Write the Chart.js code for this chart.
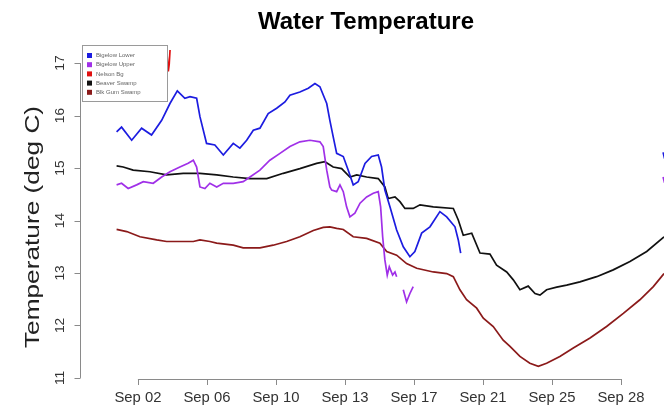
<!DOCTYPE html>
<html>
<head>
<meta charset="utf-8">
<script src="https://cdn.jsdelivr.net/npm/chart.js@4/dist/chart.umd.min.js"></script>
<style>
  html, body { margin: 0; padding: 0; background: #fff; }
  #wrap { width: 664px; height: 409px; }
</style>
</head>
<body>
<div id="wrap"><canvas id="c" width="664" height="409"></canvas></div>
<script>
// Axis ticks: x in day-of-September (fractional), y in deg C
const xTickDays = [2, 5.75, 9.5, 13.25, 17, 20.75, 24.5, 28.25];
const xTickLabels = ['Sep 02', 'Sep 06', 'Sep 10', 'Sep 13', 'Sep 17', 'Sep 21', 'Sep 25', 'Sep 28'];
const yTicks = [11, 12, 13, 14, 15, 16, 17];

const siteNames = ['Bigelow Lower', 'Bigelow Upper', 'Nelson Bg', 'Beaver Swamp', 'Blk Gum Swamp'];
const siteColors = ['#1c1ce0', '#a030e8', '#e01010', '#111111', '#8b1a1a'];

// [day, temperature] readings per site; null temperature = logger gap
const bigelowLower = [
  [0.84,15.69],[1.11,15.78],[1.66,15.53],[2.20,15.76],[2.74,15.63],[3.29,15.91],[3.74,16.23],
  [4.14,16.47],[4.55,16.33],[4.83,16.36],[5.19,16.33],[5.37,15.98],[5.73,15.47],[6.18,15.44],
  [6.64,15.25],[7.18,15.47],[7.54,15.38],[7.91,15.53],[8.27,15.72],[8.63,15.76],[9.08,16.04],
  [9.54,16.14],[9.99,16.26],[10.26,16.39],[10.80,16.45],[11.26,16.52],[11.62,16.61],[11.89,16.55],
  [12.26,16.23],[12.43,15.91],[12.61,15.60],[12.80,15.28],[13.16,15.22],[13.43,14.96],[13.70,14.68],
  [13.97,14.74],[14.34,15.09],[14.70,15.22],[15.06,15.25],[15.24,15.02],[15.42,14.58],[15.70,14.26],
  [16.06,13.82],[16.42,13.50],[16.78,13.31],[17.05,13.41],[17.42,13.76],[17.87,13.88],[18.41,14.17],
  [18.78,14.07],[19.23,13.88],[19.41,13.63],[19.54,13.38],
  [25.0,null],[30.54,15.30],[30.62,15.18]
];
const bigelowUpper = [
  [0.84,14.68],[1.11,14.71],[1.47,14.61],[1.93,14.68],[2.29,14.74],[2.83,14.71],[3.29,14.83],
  [3.74,14.93],[4.28,15.02],[4.73,15.09],[5.01,15.15],[5.19,15.02],[5.37,14.64],[5.64,14.61],
  [5.91,14.71],[6.28,14.64],[6.64,14.71],[7.18,14.71],[7.72,14.74],[8.09,14.83],[8.63,14.96],
  [9.17,15.15],[9.72,15.28],[10.26,15.41],[10.80,15.50],[11.35,15.53],[11.89,15.50],[12.07,15.41],
  [12.26,14.96],[12.43,14.64],[12.53,14.58],[12.80,14.55],[12.98,14.68],[13.16,14.55],[13.34,14.26],
  [13.52,14.07],[13.79,14.14],[14.07,14.33],[14.43,14.45],[14.79,14.52],[15.06,14.55],[15.19,14.26],
  [15.30,13.69],[15.42,13.25],[15.55,12.96],[15.66,13.12],[15.84,12.96],[15.97,13.02],[16.06,12.93],
  [16.25,null],[16.42,12.68],[16.60,12.45],[16.78,12.61],[16.96,12.74],
  [25.0,null],[30.54,14.83],[30.62,14.72]
];
const nelsonBg = [
  [3.52,17.45],[3.60,17.08],[3.65,16.84],[3.70,16.98],[3.77,17.40]
];
const beaverSwamp = [
  [0.84,15.04],[1.20,15.02],[1.74,14.96],[2.65,14.93],[3.56,14.87],[4.46,14.90],[5.37,14.90],
  [6.28,14.87],[7.18,14.83],[8.09,14.80],[9.00,14.80],[9.90,14.90],[10.80,14.99],[11.71,15.09],
  [12.16,15.12],[12.61,15.02],[13.07,14.99],[13.52,14.83],[13.89,14.87],[14.43,14.83],[15.06,14.80],
  [15.42,14.64],[15.60,14.42],[15.97,14.45],[16.24,14.36],[16.51,14.23],[16.96,14.23],[17.33,14.30],
  [18.05,14.26],[19.14,14.23],[19.41,14.01],[19.68,13.72],[20.14,13.76],[20.59,13.38],[21.13,13.36],
  [21.49,13.15],[22.04,13.02],[22.40,12.87],[22.76,12.68],[23.21,12.75],[23.58,12.61],[23.85,12.58],
  [24.21,12.68],[24.76,12.73],[25.30,12.77],[26.02,12.83],[26.93,12.93],[27.83,13.06],[28.74,13.22],
  [29.65,13.41],[30.59,13.69]
];
const blkGumSwamp = [
  [0.84,13.83],[1.39,13.79],[2.11,13.69],[3.02,13.63],[3.56,13.60],[5.01,13.60],[5.37,13.63],
  [5.91,13.60],[6.28,13.57],[7.18,13.53],[7.72,13.48],[8.63,13.48],[9.35,13.53],[10.08,13.60],
  [10.80,13.69],[11.53,13.81],[12.07,13.87],[12.43,13.88],[12.80,13.85],[13.16,13.83],[13.70,13.69],
  [14.43,13.66],[15.15,13.57],[15.52,13.41],[16.06,13.34],[16.60,13.18],[17.15,13.09],[18.05,13.02],
  [18.78,12.99],[19.14,12.93],[19.50,12.68],[19.86,12.49],[20.41,12.33],[20.77,12.14],[21.31,11.98],
  [21.85,11.72],[22.22,11.60],[22.76,11.41],[23.30,11.28],[23.76,11.22],[24.21,11.28],[24.93,11.41],
  [25.66,11.57],[26.57,11.76],[27.47,11.98],[28.38,12.23],[29.28,12.49],[30.01,12.74],[30.59,12.99]
];

const siteSeries = [bigelowLower, bigelowUpper, nelsonBg, beaverSwamp, blkGumSwamp];

const toPoints = rows => rows.map(([d, t]) => ({ x: d, y: t }));

// draws text stretched along its reading direction
function stretchedText(ctx, text, x, y, angle, stretch) {
  ctx.save();
  ctx.translate(x, y);
  ctx.rotate(angle);
  ctx.scale(stretch, 1);
  ctx.fillText(text, 0, 0);
  ctx.restore();
}

// R-style axes, title, axis label and legend drawn with the chart's scales
const baseGraphics = {
  id: 'baseGraphics',
  afterDraw(chart) {
    const ctx = chart.ctx;
    const xs = chart.scales.x, ys = chart.scales.y;
    const area = chart.chartArea;
    ctx.save();

    // title
    ctx.fillStyle = '#000';
    ctx.font = 'bold 24px "Liberation Sans", Arial, sans-serif';
    ctx.textAlign = 'center';
    ctx.textBaseline = 'middle';
    ctx.fillText('Water Temperature', 366, 22);

    // x axis
    const axisY = area.bottom;
    const x0 = xs.getPixelForValue(xTickDays[0]);
    const x1 = xs.getPixelForValue(xTickDays[xTickDays.length - 1]);
    ctx.strokeStyle = '#8a8a8a';
    ctx.lineWidth = 1;
    ctx.beginPath();
    ctx.moveTo(x0, axisY + 0.5); ctx.lineTo(x1, axisY + 0.5);
    xTickDays.forEach(d => {
      const px = Math.round(xs.getPixelForValue(d)) + 0.5;
      ctx.moveTo(px, axisY); ctx.lineTo(px, axisY + 6);
    });
    ctx.stroke();
    ctx.fillStyle = '#333';
    ctx.font = '14px "Liberation Sans", Arial, sans-serif';
    ctx.textAlign = 'center';
    ctx.textBaseline = 'middle';
    xTickDays.forEach((d, i) => {
      stretchedText(ctx, xTickLabels[i], xs.getPixelForValue(d), 398, 0, 1.06);
    });

    // y axis
    const axisX = area.left - 1.5;
    const yTop = ys.getPixelForValue(yTicks[yTicks.length - 1]);
    const yBot = ys.getPixelForValue(yTicks[0]);
    ctx.beginPath();
    ctx.moveTo(axisX, yTop); ctx.lineTo(axisX, yBot);
    yTicks.forEach(v => {
      const py = Math.round(ys.getPixelForValue(v)) + 0.5;
      ctx.moveTo(axisX, py); ctx.lineTo(axisX - 6, py);
    });
    ctx.stroke();
    ctx.font = '13px "Liberation Sans", Arial, sans-serif';
    yTicks.forEach(v => {
      stretchedText(ctx, String(v), 60, ys.getPixelForValue(v), -Math.PI / 2, 1.05);
    });

    // y axis title
    ctx.fillStyle = '#222';
    ctx.font = '21px "Liberation Sans", Arial, sans-serif';
    stretchedText(ctx, 'Temperature (deg C)', 33, 227, -Math.PI / 2, 1.25);

    // legend
    const lx = 82, ly = 45, lw = 85, lh = 56;
    ctx.fillStyle = '#fff';
    ctx.fillRect(lx, ly, lw, lh);
    ctx.strokeStyle = '#9a9a9a';
    ctx.strokeRect(lx + 0.5, ly + 0.5, lw, lh);
    ctx.font = '6px "Liberation Sans", Arial, sans-serif';
    ctx.textAlign = 'left';
    siteNames.forEach((name, i) => {
      const ry = ly + 10.5 + i * 9.2;
      ctx.fillStyle = siteColors[i];
      ctx.fillRect(lx + 5, ry - 2.5, 5, 5);
      ctx.fillStyle = '#666';
      ctx.fillText(name, lx + 14, ry);
    });

    ctx.restore();
  }
};

new Chart(document.getElementById('c'), {
  type: 'line',
  data: {
    datasets: siteSeries.map((rows, i) => ({
      label: siteNames[i],
      data: toPoints(rows),
      borderColor: siteColors[i],
      backgroundColor: siteColors[i],
      borderWidth: 1.7,
      pointRadius: 0,
      tension: 0,
      spanGaps: false,
      fill: false
    }))
  },
  options: {
    responsive: false,
    animation: false,
    events: [],
    layout: { padding: { left: 82, right: 0, top: 50, bottom: 30 } },
    plugins: { legend: { display: false }, title: { display: false }, tooltip: { enabled: false } },
    scales: {
      x: { type: 'linear', min: -1.04, max: 30.59, display: false },
      y: { type: 'linear', min: 10.98, max: 17.25, display: false }
    }
  },
  plugins: [baseGraphics]
});
</script>
</body>
</html>
